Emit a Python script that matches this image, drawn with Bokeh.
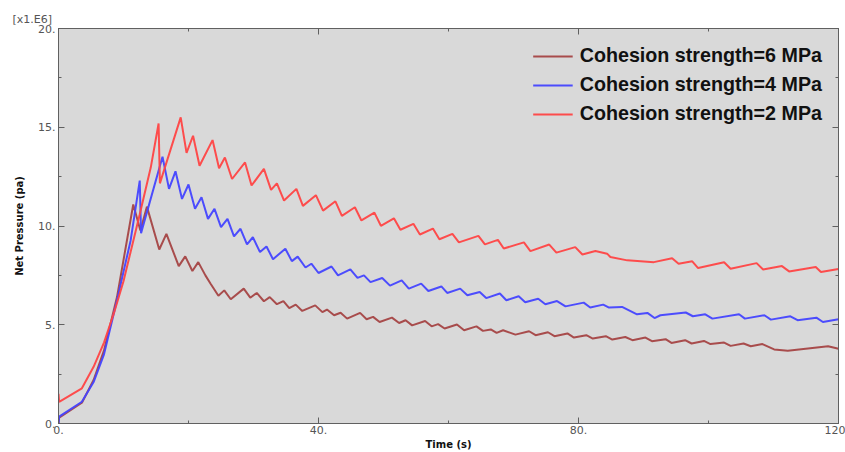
from bokeh.plotting import figure
from bokeh.models import FixedTicker, LinearAxis, Range1d, Title, Legend, LegendItem
from bokeh.embed import file_html
from bokeh.resources import INLINE

# ---- data (pressure in units of 1e6 Pa) ----
t_6mpa = [0, 0.1, 3.6, 5.4, 7.0, 9.0, 11.5, 12.6, 13.6, 15.5, 16.6, 18.5, 19.5, 20.6, 21.5, 22.6, 23.4,
          24.6, 25.5, 26.5, 28.5, 29.5, 30.5, 31.6, 32.5, 33.6, 34.6, 35.5, 36.5, 37.5, 39.5, 40.6,
          41.3, 42.4, 43.4, 44.4, 46.4, 47.4, 48.4, 49.4, 51.3, 52.4, 53.4, 54.4, 56.4, 57.4, 58.4,
          59.4, 61.3, 62.4, 64.3, 65.3, 66.5, 67.4, 68.4, 70.3, 72.4, 73.4, 75.3, 76.3, 78.3, 79.3,
          81.2, 82.2, 84.2, 85.2, 87.2, 88.3, 90.3, 91.3, 93.4, 94.3, 96.4, 97.4, 99.3, 100.3, 102.4,
          103.4, 105.4, 106.5, 108.3, 110.1, 112.2, 118.4, 120]
p_6mpa = [0.0, 0.3, 1.05, 2.2, 3.7, 6.4, 11.09, 9.77, 10.98, 8.81, 9.6, 7.97, 8.46, 7.72, 8.17, 7.5, 7.08,
          6.47, 6.74, 6.29, 6.83, 6.37, 6.61, 6.19, 6.4, 6.04, 6.2, 5.84, 6.02, 5.7, 5.98, 5.64,
          5.77, 5.48, 5.61, 5.31, 5.6, 5.28, 5.4, 5.14, 5.36, 5.09, 5.23, 4.97, 5.19, 4.92, 5.03,
          4.81, 5.01, 4.72, 4.92, 4.69, 4.76, 4.59, 4.72, 4.5, 4.67, 4.47, 4.62, 4.42, 4.56, 4.35,
          4.47, 4.3, 4.42, 4.25, 4.38, 4.22, 4.35, 4.17, 4.27, 4.08, 4.22, 4.05, 4.18, 4.02, 4.1,
          3.93, 4.05, 3.91, 4.02, 3.75, 3.68, 3.91, 3.78]

t_4mpa = [0, 0.1, 3.6, 5.4, 7.0, 9.0, 11.1, 12.5, 12.7, 16.0, 17.0, 18.0, 19.0, 20.0, 21.0, 22.0, 23.0,
          24.0, 25.0, 26.0, 27.0, 28.0, 29.0, 29.9, 31.0, 32.0, 33.0, 34.9, 35.9, 36.8, 38.0, 38.9,
          40.0, 42.0, 43.0, 44.9, 46.0, 47.0, 48.0, 49.8, 51.0, 52.8, 53.9, 55.8, 56.9, 58.9, 59.8,
          61.8, 62.9, 64.8, 65.8, 67.9, 68.9, 70.8, 71.8, 73.8, 74.9, 76.7, 78.0, 80.8, 81.8, 83.8,
          84.7, 86.7, 89.0, 90.6, 91.7, 92.6, 96.5, 97.6, 99.5, 100.6, 104.7, 105.6, 108.6, 109.6,
          112.6, 113.7, 116.6, 117.6, 120]
p_4mpa = [0.0, 0.35, 1.1, 2.1, 3.5, 6.24, 9.27, 12.3, 9.64, 13.51, 11.88, 12.77, 11.37, 12.1, 10.87, 11.46, 10.36,
          10.87, 9.94, 10.36, 9.47, 9.86, 9.07, 9.43, 8.68, 8.96, 8.32, 8.85, 8.22, 8.45, 7.9, 8.09,
          7.62, 7.95, 7.5, 7.8, 7.37, 7.5, 7.16, 7.37, 6.98, 7.25, 6.83, 7.08, 6.71, 6.94, 6.61,
          6.83, 6.49, 6.66, 6.35, 6.58, 6.24, 6.44, 6.14, 6.32, 6.04, 6.2, 5.93, 6.12, 5.87, 6.02,
          5.87, 5.9, 5.53, 5.6, 5.34, 5.48, 5.62, 5.43, 5.53, 5.31, 5.53, 5.31, 5.48, 5.26,
          5.43, 5.23, 5.36, 5.14, 5.28]

t_2mpa = [0, 0.1, 3.6, 5.4, 7.0, 8.5, 10.0, 11.1, 12.5, 14.2, 15.4, 15.6, 18.8, 19.7, 20.7, 21.7, 23.7,
          24.7, 25.6, 26.7, 28.7, 29.7, 31.6, 32.7, 33.6, 34.7, 36.6, 37.6, 39.6, 40.7, 42.6, 43.6,
          45.6, 46.6, 48.6, 49.6, 51.6, 52.6, 54.6, 55.6, 57.6, 58.6, 60.6, 61.6, 64.6, 65.6, 67.6,
          68.5, 71.6, 72.6, 75.5, 76.6, 79.5, 80.6, 82.6, 84.4, 84.9, 87.5, 91.6, 94.4, 95.4, 97.5,
          98.4, 102.4, 103.4, 107.4, 108.4, 111.3, 112.4, 116.5, 117.3, 120]
p_2mpa = [1.5, 1.1, 1.78, 2.87, 4.1, 5.56, 7.2, 8.7, 10.6, 12.97, 15.19, 12.16, 15.5, 13.7, 14.57, 13.05, 14.35,
          12.92, 13.47, 12.38, 13.22, 12.05, 12.89, 11.83, 12.16, 11.29, 11.88, 11.02, 11.56, 10.78, 11.25, 10.51,
          10.95, 10.28, 10.68, 10.01, 10.39, 9.81, 10.11, 9.57, 9.87, 9.33, 9.6, 9.17, 9.5, 9.07, 9.3,
          8.86, 9.17, 8.73, 9.06, 8.65, 8.93, 8.56, 8.73, 8.6, 8.43, 8.26, 8.17, 8.37, 8.09, 8.21,
          7.87, 8.16, 7.84, 8.12, 7.8, 7.97, 7.7, 7.92, 7.67, 7.82]

series_labels = ["Cohesion strength=6 MPa", "Cohesion strength=4 MPa", "Cohesion strength=2 MPa"]
series_colors = ["#a54545", "#4545ff", "#ff4545"]

x_ticks = [0, 40, 80, 120]
x_minor = [20, 60, 100]
x_tick_labels = {0: "0.", 40: "40.", 80: "80.", 120: "120"}
y_ticks = [0, 5, 10, 15, 20]
y_minor = [2.5, 7.5, 12.5, 17.5]
y_tick_labels = {0: "0.", 5: "5.", 10: "10.", 15: "15.", 20: "20."}

p = figure(width=845, height=452, output_backend="svg", toolbar_location=None,
           x_range=Range1d(0, 120), y_range=Range1d(0, 20),
           min_border_left=58, min_border_right=7, min_border_top=28, min_border_bottom=29)
p.background_fill_color = "#d9d9d9"
p.border_fill_color = "white"
p.outline_line_color = "#606060"
p.outline_line_width = 1
p.grid.visible = False

def style_axis(ax, ticks, minor, labels, show_labels=True):
    ax.ticker = FixedTicker(ticks=ticks, minor_ticks=minor)
    ax.axis_line_color = "#606060"
    ax.major_tick_line_color = "#606060"
    ax.minor_tick_line_color = "#606060"
    ax.major_tick_in = 6
    ax.major_tick_out = 0
    ax.minor_tick_in = 3
    ax.minor_tick_out = 0
    if show_labels:
        ax.major_label_overrides = labels
        ax.major_label_text_font = "DejaVu Sans"
        ax.major_label_text_font_size = "11px"
        ax.major_label_text_color = "#555555"
        ax.major_label_standoff = 2
        ax.axis_label_text_font = "DejaVu Sans"
        ax.axis_label_text_font_size = "10px"
        ax.axis_label_text_font_style = "bold"
        ax.axis_label_text_color = "#111111"
    else:
        ax.major_label_text_alpha = 0
        ax.major_label_text_font_size = "1px"
        ax.major_label_standoff = 0

style_axis(p.xaxis[0], x_ticks, x_minor, x_tick_labels)
style_axis(p.yaxis[0], y_ticks, y_minor, y_tick_labels)
p.yaxis[0].major_label_standoff = 3
p.xaxis[0].axis_label = "Time (s)"
p.yaxis[0].axis_label = "Net Pressure (pa)"
p.xaxis[0].axis_label_standoff = 2
p.yaxis[0].axis_label_standoff = 10

top_ax = LinearAxis()
style_axis(top_ax, x_ticks, x_minor, None, show_labels=False)
right_ax = LinearAxis()
style_axis(right_ax, y_ticks, y_minor, None, show_labels=False)
p.add_layout(top_ax, "above")
p.add_layout(right_ax, "right")

p.add_layout(Title(text="[x1.E6]", align="left", offset=-46, text_font_size="11px",
                   text_font="DejaVu Sans", text_font_style="normal", text_color="#555555",
                   standoff=6), "above")

renderers = []
for tx, py, c in [(t_6mpa, p_6mpa, series_colors[0]),
                  (t_4mpa, p_4mpa, series_colors[1]),
                  (t_2mpa, p_2mpa, series_colors[2])]:
    r = p.line(tx, py, line_color=c, line_width=2, line_alpha=0.95)
    renderers.append(r)

legend = Legend(items=[LegendItem(label=lab, renderers=[r]) for lab, r in zip(series_labels, renderers)],
                location="top_right", margin=16, padding=0, spacing=6,
                glyph_width=40, glyph_height=22, label_height=22, label_standoff=7,
                label_text_font="Liberation Sans", label_text_font_style="bold",
                label_text_font_size="19.7px", label_text_color="#111111",
                background_fill_alpha=0, border_line_alpha=0)
p.add_layout(legend)

open("out.html", "w").write(file_html(p, INLINE))
